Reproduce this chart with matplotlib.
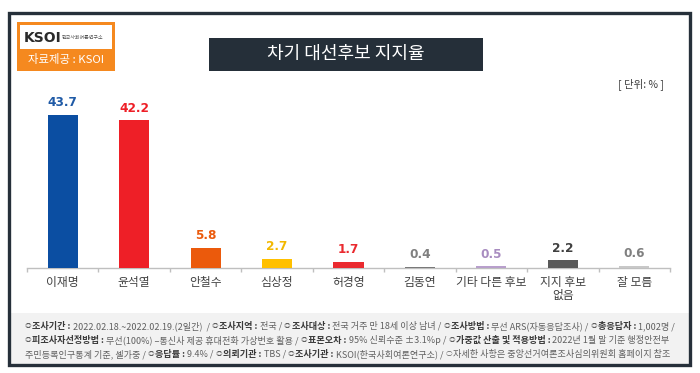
import matplotlib
matplotlib.use("Agg")
import matplotlib.pyplot as plt
from matplotlib.patches import Rectangle

plt.rcParams['font.family'] = ['Noto Sans CJK KR', 'DejaVu Sans']

# ---- data ----
categories = ["이재명", "윤석열", "안철수", "심상정", "허경영", "김동연", "기타 다른 후보", "지지 후보\n없음", "잘 모름"]
values = [43.7, 42.2, 5.8, 2.7, 1.7, 0.4, 0.5, 2.2, 0.6]
bar_colors = ["#0b4ea2", "#ee1f27", "#eb5a0c", "#ffc000", "#ea2a2f", "#7a7a7a", "#b89fcc", "#595959", "#c8c8c8"]
label_colors = ["#1f5aa6", "#ee1f27", "#eb5a0c", "#f2b800", "#ea2a2f", "#808080", "#a88cc0", "#404040", "#808080"]
title = "차기 대선후보 지지율"
unit_label = "[ 단위: % ]"
source_label = "자료제공 : KSOI"
footer_lines = [
    [("◎", False), ("조사기간 :", True), (" 2022.02.18.~2022.02.19.(2일간)  / ", False), ("◎", False), ("조사지역 :", True),
     (" 전국 / ", False), ("◎", False), ("조사대상 :", True), (" 전국 거주 만 18세 이상 남녀 / ", False), ("◎", False),
     ("조사방법 :", True), (" 무선 ARS(자동응답조사) / ", False), ("◎", False), ("총응답자 :", True), (" 1,002명 /", False)],
    [("◎", False), ("피조사자선정방법 :", True), (" 무선(100%) –통신사 제공 휴대전화 가상번호 활용 / ", False), ("◎", False),
     ("표본오차 :", True), (" 95% 신뢰수준 ±3.1%p / ", False), ("◎", False), ("가중값 산출 및 적용방법 :", True),
     (" 2022년 1월 말 기준 행정안전부", False)],
    [("주민등록인구통계 기준, 셀가중 / ", False), ("◎", False), ("응답률 :", True), (" 9.4% / ", False), ("◎", False),
     ("의뢰기관 :", True), (" TBS / ", False), ("◎", False), ("조사기관 :", True), (" KSOI(한국사회여론연구소) / ", False),
     ("○", False), ("자세한 사항은 중앙선거여론조사심의위원회 홈페이지 참조", False)],
]

W, H = 700, 373
fig = plt.figure(figsize=(7.0, 3.73), dpi=100)
fig.patch.set_facecolor("white")

def fx(px):
    return px / W

def fy(py):
    return 1 - py / H

# outer frame and footer background
fig.patches.append(Rectangle((fx(10), fy(364)), fx(679), 51 / H, transform=fig.transFigure,
                             facecolor="#f2f2f2", edgecolor="none", zorder=0))
fig.patches.append(Rectangle((fx(9), fy(365)), fx(681), 352 / H, transform=fig.transFigure,
                             facecolor="none", edgecolor="#26303a", linewidth=2.4, zorder=5))

# logo
fig.patches.append(Rectangle((fx(17), fy(71)), fx(98), 49 / H, transform=fig.transFigure,
                             facecolor="#f5891f", edgecolor="none", zorder=2))
fig.patches.append(Rectangle((fx(20), fy(49)), fx(92), 24 / H, transform=fig.transFigure,
                             facecolor="white", edgecolor="none", zorder=3))
fig.text(fx(24), fy(37.5), "KSOI", fontsize=10, fontweight="bold", color="#2a2a2a", va="center", ha="left", zorder=4,
         family=["DejaVu Sans"])
fig.text(fx(62), fy(37.5), "한국사회여론연구소", fontsize=3.6, color="#555555", va="center", ha="left", zorder=4)
fig.text(fx(66), fy(60), source_label, fontsize=8.2, color="white", va="center", ha="center", zorder=4)

# title box
fig.patches.append(Rectangle((fx(209), fy(71)), fx(274), 33 / H, transform=fig.transFigure,
                             facecolor="#252f39", edgecolor="none", zorder=2))
fig.text(fx(346), fy(54), title, fontsize=13, color="white", va="center", ha="center", zorder=4)

fig.text(fx(664), fy(84), unit_label, fontsize=7.5, color="#404040", va="center", ha="right")

# chart
ax = fig.add_axes([fx(27), fy(268), fx(643), 175 / H])
x = list(range(len(categories)))
ax.bar(x, values, width=0.42, color=bar_colors, zorder=3)
ax.set_xlim(-0.5, len(categories) - 0.5)
ax.set_ylim(0, 50)
ax.patch.set_alpha(0)
for s in ["top", "right", "left"]:
    ax.spines[s].set_visible(False)
ax.spines["bottom"].set_color("#bfbfbf")
ax.spines["bottom"].set_linewidth(1.0)
ax.set_yticks([])
ax.set_xticks([i - 0.5 for i in range(len(categories) + 1)])
ax.set_xticklabels([])
ax.tick_params(axis="x", length=3, color="#bfbfbf", width=1.0)
for i, (v, c) in enumerate(zip(values, label_colors)):
    ax.annotate(f"{v}", (i, v), xytext=(0, 4), textcoords="offset points", ha="center", va="bottom",
                fontsize=8.7, fontweight="bold", color=c, family=["DejaVu Sans"])
for i, cat in enumerate(categories):
    ax.annotate(cat, (i, 0), xytext=(0, -6), textcoords="offset points", ha="center", va="top",
                fontsize=8.5, color="#404040", linespacing=1.0, annotation_clip=False)

# footer with mixed bold runs
renderer = fig.canvas.get_renderer()
line_ys = [326, 340, 354]
base_fs = 5.6
target_w = 650

def draw_line(pieces, ly, size, commit):
    xcur = fx(25)
    objs = []
    for txt, bold in pieces:
        sym = txt in ("◎", "○")
        t = fig.text(xcur, fy(ly), txt, fontsize=size * (0.72 if sym else 1.0),
                     fontweight="bold" if bold else "normal",
                     color="#3a3a3a" if bold else "#606060", va="center", ha="left")
        bb = t.get_window_extent(renderer)
        xcur = xcur + (bb.width + (1 if sym else 0)) / W
        objs.append(t)
    if not commit:
        for t in objs:
            t.remove()
    return (xcur - fx(25)) * W

w0 = draw_line(footer_lines[0], line_ys[0], base_fs, False)
fs = base_fs * target_w / w0
for pieces, ly in zip(footer_lines, line_ys):
    draw_line(pieces, ly, fs, True)

fig.savefig("out.png", dpi=100, facecolor="white")
